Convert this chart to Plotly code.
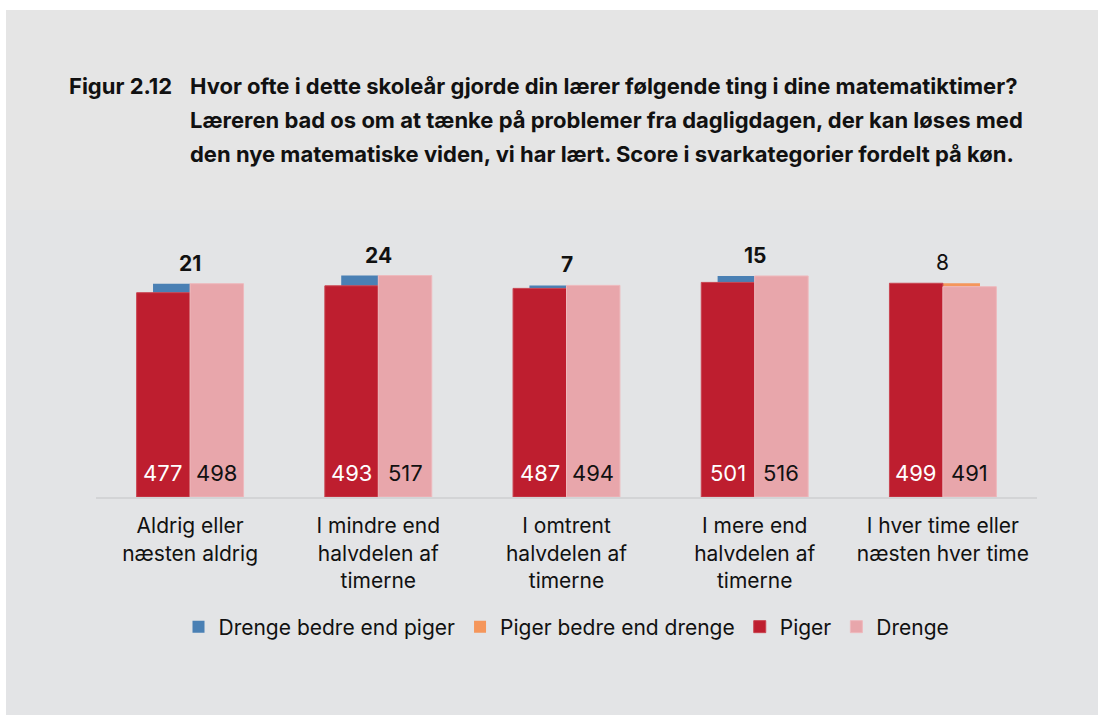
import plotly.graph_objects as go

categories = [
    "Aldrig eller<br>næsten aldrig",
    "I mindre end<br>halvdelen af<br>timerne",
    "I omtrent<br>halvdelen af<br>timerne",
    "I mere end<br>halvdelen af<br>timerne",
    "I hver time eller<br>næsten hver time",
]
piger = [477, 493, 487, 501, 499]
drenge = [498, 517, 494, 516, 491]
significant = [True, True, True, True, False]

title_lines = [
    "Hvor ofte i dette skoleår gjorde din lærer følgende ting i dine matematiktimer?",
    "Læreren bad os om at tænke på problemer fra dagligdagen, der kan løses med",
    "den nye matematiske viden, vi har lært. Score i svarkategorier fordelt på køn.",
]

RED = "#be1e2f"
PINK = "#e8a6ab"
BLUE = "#4a80b4"
ORANGE = "#f5965b"
FONT = "Inter"

W, H = 1098, 715
# plot area in page pixels
L, R, T, B = 96, 1037, 240, 497
BW = 0.284   # bar width (category units)
DW = 0.197   # difference bar width


def px(x):
    return (x - L) / (R - L)


def py(y):
    return (B - y) / (B - T)


x = list(range(len(categories)))
diff = [d - p for p, d in zip(piger, drenge)]
boys_up = [v if v > 0 else None for v in diff]
girls_up = [-v if v < 0 else None for v in diff]

fig = go.Figure()
fig.add_trace(go.Bar(
    name="Drenge bedre end piger", x=x, y=boys_up, base=piger,
    offset=-DW, width=DW, marker=dict(color=BLUE, line=dict(width=0)),
    hoverinfo="skip",
))
fig.add_trace(go.Bar(
    name="Piger bedre end drenge", x=x, y=girls_up, base=drenge,
    offset=0, width=DW, marker=dict(color=ORANGE, line=dict(width=0)),
    hoverinfo="skip",
))
fig.add_trace(go.Bar(
    name="Piger", x=x, y=piger, offset=-BW, width=BW,
    marker=dict(color=RED, line=dict(width=1, color="#c94450")),
))
fig.add_trace(go.Bar(
    name="Drenge", x=x, y=drenge, offset=0, width=BW,
    marker=dict(color=PINK, line=dict(width=1, color="#eeb9bd")),
))

# value labels at the base of each bar, difference above the group
for i in x:
    fig.add_annotation(x=i - BW / 2, y=0, text=str(piger[i]), showarrow=False,
                       yanchor="middle", yshift=24,
                       font=dict(family=FONT, size=22, color="white"))
    fig.add_annotation(x=i + BW / 2, y=0, text=str(drenge[i]), showarrow=False,
                       yanchor="middle", yshift=24,
                       font=dict(family=FONT, size=22, color="#111111"))
    txt = str(abs(diff[i]))
    if significant[i]:
        txt = "<b>" + txt + "</b>"
    fig.add_annotation(x=i, y=max(piger[i], drenge[i]), text=txt, showarrow=False,
                       yanchor="bottom", yshift=6,
                       font=dict(family=FONT, size=21, color="#111111"))

# title
fig.add_annotation(xref="paper", yref="paper", x=px(67), y=py(86), text="<b>Figur 2.12</b>",
                   showarrow=False, xanchor="left", yanchor="middle",
                   font=dict(family=FONT, size=22, color="#111111"))
for line, yy in zip(title_lines, [86, 120, 154]):
    fig.add_annotation(xref="paper", yref="paper", x=px(188), y=py(yy), text="<b>" + line + "</b>",
                       showarrow=False, xanchor="left", yanchor="middle",
                       font=dict(family=FONT, size=22, color="#111111"))

# background panels
fig.add_shape(type="rect", xref="paper", yref="paper", layer="below",
              x0=px(6), x1=px(W + 10), y0=py(10), y1=py(210),
              fillcolor="#e5e5e5", line=dict(width=0))
fig.add_shape(type="rect", xref="paper", yref="paper", layer="below",
              x0=px(6), x1=px(W + 10), y0=py(210), y1=py(H + 10),
              fillcolor="#e3e4e6", line=dict(width=0))

fig.update_layout(
    width=W, height=H,
    barmode="overlay",
    paper_bgcolor="white",
    plot_bgcolor="rgba(0,0,0,0)",
    font=dict(family=FONT, size=20, color="#111111"),
    margin=dict(l=L, r=W - R, t=T, b=H - B, pad=0),
    xaxis=dict(
        tickmode="array", tickvals=x, ticktext=categories,
        range=[-0.5, len(categories) - 0.5],
        showline=True, linecolor="#d3d4d6", linewidth=2,
        showgrid=False, zeroline=False, ticks="",
        ticklabelstandoff=9,
        tickfont=dict(family=FONT, size=21, color="#111111"),
        fixedrange=True,
    ),
    yaxis=dict(range=[0, 600], visible=False, fixedrange=True),
    legend=dict(
        orientation="h", x=0.5, xanchor="center", y=py(627), yanchor="middle",
        font=dict(family=FONT, size=21, color="#111111"),
        bgcolor="rgba(0,0,0,0)", traceorder="normal", itemwidth=30,
    ),
    showlegend=True,
)

fig.write_html(
    "out.html",
    config={"displayModeBar": False},
    post_script="document.body.style.margin='0';document.body.style.overflow='hidden';",
)
